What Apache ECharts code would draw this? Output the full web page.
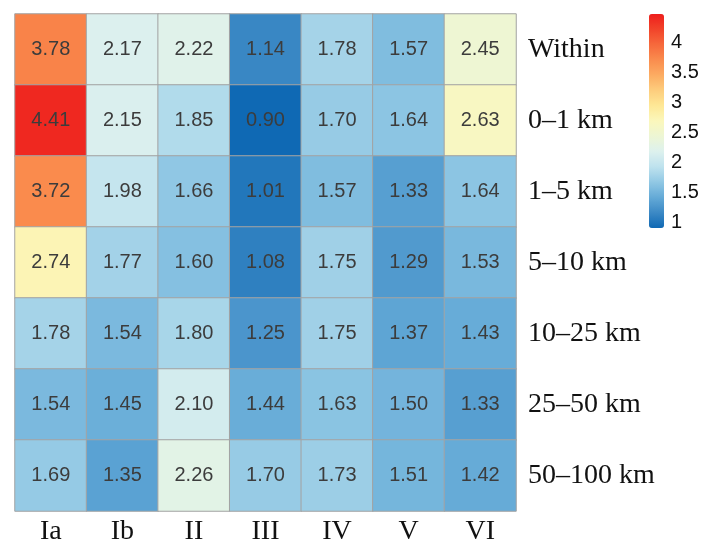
<!DOCTYPE html>
<html>
<head>
<meta charset="utf-8">
<script src="https://cdn.jsdelivr.net/npm/echarts@6/dist/echarts.min.js"></script>
<style>
  html, body { margin: 0; padding: 0; background: #fff; }
  #chart { width: 708px; height: 546px; }
</style>
</head>
<body>
<div id="chart"></div>
<script>
// Site classes (columns) and distance bands (rows)
const classes = ['Ia', 'Ib', 'II', 'III', 'IV', 'V', 'VI'];
const bands = ['Within', '0–1 km', '1–5 km', '5–10 km', '10–25 km', '25–50 km', '50–100 km'];

// One array of values per distance band, ordered like `classes`
const within   = [3.78, 2.17, 2.22, 1.14, 1.78, 1.57, 2.45];
const km0to1   = [4.41, 2.15, 1.85, 0.90, 1.70, 1.64, 2.63];
const km1to5   = [3.72, 1.98, 1.66, 1.01, 1.57, 1.33, 1.64];
const km5to10  = [2.74, 1.77, 1.60, 1.08, 1.75, 1.29, 1.53];
const km10to25 = [1.78, 1.54, 1.80, 1.25, 1.75, 1.37, 1.43];
const km25to50 = [1.54, 1.45, 2.10, 1.44, 1.63, 1.50, 1.33];
const km50to100 = [1.69, 1.35, 2.26, 1.70, 1.73, 1.51, 1.42];

// Colour bar scale and its tick labels
const scaleMin = 0.9;
const scaleMax = 4.48;
const scaleTicks = [1, 1.5, 2, 2.5, 3, 3.5, 4];

const rows = [within, km0to1, km1to5, km5to10, km10to25, km25to50, km50to100];
const cells = [];
rows.forEach((row, r) => row.forEach((v, c) => cells.push([c, r, v])));

const serif = '"Liberation Serif", "Times New Roman", serif';
const sans = '"Liberation Sans", Arial, sans-serif';

// Blue -> pale -> yellow -> red ramp, evenly spaced over [scaleMin, scaleMax]
const ramp = [
  'rgb(15,105,180)', 'rgb(60,137,197)', 'rgb(100,170,215)', 'rgb(145,200,228)',
  'rgb(190,226,238)', 'rgb(221,241,238)', 'rgb(237,246,212)', 'rgb(251,247,188)',
  'rgb(254,232,150)', 'rgb(253,205,125)', 'rgb(252,172,98)', 'rgb(250,140,78)',
  'rgb(246,105,60)', 'rgb(242,68,42)', 'rgb(238,30,28)'
];

const chart = echarts.init(document.getElementById('chart'));
chart.setOption({
  backgroundColor: '#ffffff',
  animation: false,
  grid: [
    { left: 15, top: 14, width: 501, height: 501 },
    { left: 649, top: 14, width: 15, height: 214 }
  ],
  xAxis: [
    {
      type: 'category', gridIndex: 0, data: classes, position: 'bottom',
      axisLine: { show: false }, axisTick: { show: false }, splitLine: { show: false },
      axisLabel: { fontFamily: serif, fontSize: 28, color: '#111', margin: 7 }
    },
    { type: 'value', gridIndex: 1, show: false, min: 0, max: 1 }
  ],
  yAxis: [
    {
      type: 'category', gridIndex: 0, data: bands, inverse: true, position: 'right',
      axisLine: { show: false }, axisTick: { show: false }, splitLine: { show: false },
      axisLabel: { fontFamily: serif, fontSize: 28, color: '#111', margin: 12, align: 'left' }
    },
    {
      type: 'value', gridIndex: 1, min: scaleMin, max: scaleMax, position: 'right',
      axisLine: { show: false }, axisTick: { show: false }, splitLine: { show: false },
      axisLabel: {
        customValues: scaleTicks, fontFamily: sans, fontSize: 20, color: '#111', margin: 7
      }
    }
  ],
  visualMap: {
    type: 'continuous',
    seriesIndex: 0,
    min: scaleMin,
    max: scaleMax,
    calculable: false,
    orient: 'vertical',
    left: 649,
    top: 14,
    padding: 0,
    itemWidth: 15,
    itemHeight: 214,
    text: null,
    showLabel: false,
    inRange: { color: ramp }
  },
  series: [{
    type: 'heatmap',
    xAxisIndex: 0,
    yAxisIndex: 0,
    data: cells,
    itemStyle: { borderColor: '#a3a3a3', borderWidth: 1 },
    label: {
      show: true,
      fontFamily: sans,
      fontSize: 20,
      color: '#3c3c3c',
      formatter: p => p.value[2].toFixed(2)
    },
    emphasis: { disabled: true }
  }]
});
</script>
</body>
</html>
